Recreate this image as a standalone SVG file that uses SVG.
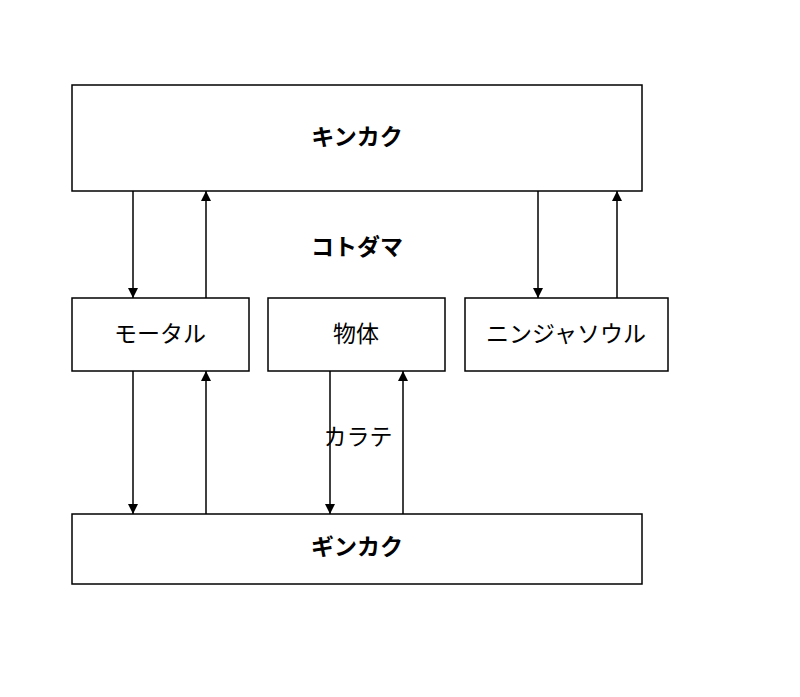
<svg xmlns="http://www.w3.org/2000/svg" width="800" height="697" viewBox="0 0 800 697">
<style>
rect{fill:#fff;stroke:#000;stroke-width:1.5}
text{font-family:"Noto Sans CJK JP",sans-serif;font-size:23px;text-anchor:middle;dominant-baseline:central;fill:#000}
.b{font-weight:bold}
line{stroke:#000;stroke-width:1.5;marker-end:url(#a)}
</style>
<defs><marker id="a" viewBox="0 0 10 10" refX="10" refY="5" markerWidth="14" markerHeight="10" markerUnits="userSpaceOnUse" orient="auto"><path d="M0,0L10,5L0,10z" fill="#000"/></marker></defs>
<rect width="800" height="697" style="stroke:none"/>
<g id="kinkaku"><rect x="72" y="85" width="570" height="106"/><text class="b" x="357" y="135">キンカク</text></g>
<g id="mortal"><rect x="72" y="298" width="177" height="73"/><text x="160" y="332">モータル</text></g>
<g id="buttai"><rect x="268" y="298" width="177" height="73"/><text x="356" y="332">物体</text></g>
<g id="ninja"><rect x="465" y="298" width="203" height="73"/><text x="566" y="332">ニンジャソウル</text></g>
<g id="ginkaku"><rect x="72" y="514" width="570" height="70"/><text class="b" x="357" y="545">ギンカク</text></g>
<g id="labels"><text class="b" x="357" y="245">コトダマ</text><text x="358" y="435">カラテ</text></g>
<g id="connectors">
<line x1="133" y1="191" x2="133" y2="298"/>
<line x1="206" y1="298" x2="206" y2="191"/>
<line x1="538" y1="191" x2="538" y2="298"/>
<line x1="617" y1="298" x2="617" y2="191"/>
<line x1="133" y1="371" x2="133" y2="514"/>
<line x1="206" y1="514" x2="206" y2="371"/>
<line x1="330" y1="371" x2="330" y2="514"/>
<line x1="403" y1="514" x2="403" y2="371"/>
</g>
</svg>
